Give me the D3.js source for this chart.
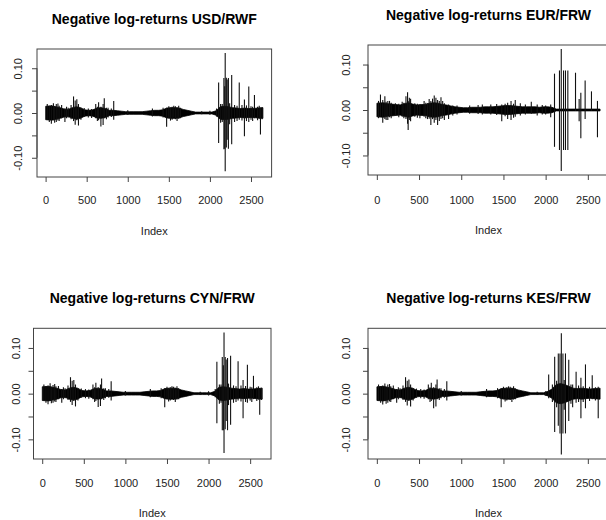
<!DOCTYPE html>
<html>
<head>
<meta charset="utf-8">
<title></title>
<script src="https://d3js.org/d3.v7.min.js"></script>
<style>
  body { margin: 0; background: #fff; }
  svg { display: block; font-family: "Liberation Sans", Arial, Helvetica, sans-serif; }
</style>
</head>
<body>
<svg id="chart" width="606" height="520"></svg>
<script>
// ticks shared by the four panels
const xTicks = [0, 500, 1000, 1500, 2000, 2500];
const yTicks = [-0.10, -0.05, 0, 0.05, 0.10];
const yLabels = [-0.10, 0.00, 0.10];
const nObs = 2645;     // series length
const binWidth = 50;   // band values are read per 50 observations

const titles = ["Negative log-returns USD/RWF", "Negative log-returns EUR/FRW",
                "Negative log-returns CYN/FRW", "Negative log-returns KES/FRW"];

// half width of the dense band of returns, one value per 50 obs
const bandUSD = [0.015,0.016,0.014,0.012, 0.009,0.008, 0.012,0.014,0.012, 0.007,0.006,0.007,
                 0.011,0.012,0.010, 0.006,0.006,0.005, 0.004,0.003,0.003,0.003,0.003,0.003,0.004,
                 0.005,0.006,0.006,0.007, 0.011,0.012,0.012,0.011,0.008, 0.006,0.004,
                 0.002,0.002,0.002,0.002,0.002,0.005,
                 0.014,0.015,0.014,0.012,0.011,0.010,0.011,0.010,0.010,0.011,0.012];
const bandEUR = [0.015,0.016,0.014,0.013, 0.012,0.011, 0.014,0.016,0.013, 0.011,0.012,0.012,
                 0.015,0.016,0.015, 0.012,0.011,0.009, 0.007,0.006,0.005,0.005,0.006,0.006,0.006,
                 0.007,0.007,0.007,0.008, 0.009,0.010,0.010,0.009,0.008, 0.007,0.007,
                 0.007,0.007,0.006,0.007,0.007,0.006,
                 0.002,0.002,0.002,0.002,0.002,0.002,0.002,0.002,0.002,0.002,0.002];
const bandCYN = [0.015,0.016,0.014,0.012, 0.009,0.008, 0.012,0.014,0.012, 0.007,0.006,0.007,
                 0.011,0.012,0.010, 0.006,0.006,0.005, 0.004,0.003,0.003,0.003,0.003,0.003,0.004,
                 0.005,0.006,0.006,0.007, 0.011,0.012,0.012,0.011,0.008, 0.006,0.004,
                 0.002,0.002,0.002,0.002,0.002,0.005,
                 0.014,0.015,0.014,0.012,0.011,0.010,0.011,0.010,0.010,0.011,0.012];
const bandKES = [0.015,0.016,0.014,0.012, 0.009,0.008, 0.012,0.014,0.012, 0.007,0.006,0.007,
                 0.011,0.012,0.010, 0.006,0.006,0.005, 0.004,0.003,0.003,0.003,0.003,0.003,0.004,
                 0.005,0.006,0.006,0.007, 0.011,0.012,0.012,0.011,0.008, 0.006,0.004,
                 0.002,0.002,0.002,0.002,0.005,0.010,
                 0.020,0.022,0.020,0.016,0.012,0.011,0.012,0.011,0.010,0.011,0.012];

// single large moves: [index, low, high]
const spikesUSD = [[20,-0.014,0.020],[45,-0.020,0.016],[70,-0.024,0.018],[95,-0.016,0.022],
  [110,-0.022,0.015],[130,-0.020,0.020],[150,-0.017,0.021],[165,-0.018,0.016],[195,-0.012,0.018],
  [235,-0.020,0.010],[255,-0.012,0.014],[275,-0.010,0.012],[310,-0.014,0.018],
  [340,-0.018,0.037],[360,-0.026,0.028],[380,-0.016,0.031],[400,-0.028,0.020],[430,-0.015,0.012],
  [470,-0.009,0.011],[520,-0.010,0.010],[560,-0.011,0.009],[610,-0.012,0.020],[630,-0.018,0.014],
  [645,-0.016,0.024],[673,-0.030,0.014],[700,-0.027,0.020],[714,-0.012,0.033],[740,-0.014,0.012],
  [760,-0.010,0.012],[800,-0.009,0.010],[829,-0.015,0.027],[1000,-0.004,0.006],[1300,-0.008,0.010],
  [1430,-0.010,0.012],[1473,-0.031,0.012],[1500,-0.012,0.015],[1520,-0.017,0.012],[1540,-0.015,0.014],
  [1560,-0.010,0.016],[1580,-0.014,0.015],[1600,-0.018,0.013],[1620,-0.013,0.016],
  [1640,-0.012,0.012],[1900,-0.003,0.004],[2000,-0.004,0.005],[2080,-0.008,0.010],
  [2106,-0.067,0.068],[2130,-0.022,0.020],[2150,-0.020,0.020],[2170,-0.081,0.078],[2180,-0.080,0.060],
  [2186,-0.130,0.134],[2200,-0.077,0.079],[2210,-0.060,0.075],[2225,-0.080,0.078],[2240,-0.025,0.022],
  [2265,-0.070,0.085],[2300,-0.020,0.018],[2330,-0.018,0.016],
  [2357,-0.015,0.068],[2390,-0.017,0.018],[2420,-0.052,0.030],[2445,-0.018,0.017],[2473,-0.020,0.059],
  [2500,-0.015,0.015],[2520,-0.018,0.014],[2542,-0.012,0.040],[2580,-0.016,0.014],[2600,-0.013,0.016],
  [2615,-0.048,0.012],[2635,-0.014,0.013]];
const spikesEUR = [[20,-0.018,0.020],[43,-0.015,0.034],[70,-0.028,0.022],[95,-0.020,0.030],
  [110,-0.022,0.018],[130,-0.022,0.020],[150,-0.016,0.020],[170,-0.018,0.016],[220,-0.012,0.015],
  [260,-0.016,0.014],[300,-0.015,0.018],[320,-0.018,0.016],[345,-0.020,0.030],[364,-0.030,0.039],
  [371,-0.044,0.020],[385,-0.022,0.027],[400,-0.025,0.025],[450,-0.015,0.015],[480,-0.017,0.014],
  [510,-0.018,0.012],[560,-0.015,0.020],[580,-0.018,0.016],[600,-0.020,0.015],[620,-0.019,0.024],
  [640,-0.033,0.020],[660,-0.020,0.025],[680,-0.028,0.032],[700,-0.022,0.027],[720,-0.033,0.022],
  [740,-0.024,0.020],[760,-0.020,0.028],[780,-0.018,0.020],[800,-0.022,0.015],[850,-0.020,0.012],
  [900,-0.012,0.010],[950,-0.010,0.010],[1100,-0.008,0.010],[1200,-0.009,0.011],
  [1250,-0.010,0.012],[1350,-0.010,0.012],[1420,-0.011,0.013],[1480,-0.025,0.012],[1520,-0.014,0.014],
  [1550,-0.020,0.016],[1590,-0.022,0.020],[1620,-0.017,0.014],
  [1640,-0.015,0.022],[1700,-0.012,0.015],[1760,-0.010,0.012],[1830,-0.008,0.018],[1900,-0.012,0.012],
  [1960,-0.010,0.011],[2000,-0.010,0.010],[2060,-0.016,0.012],
  [2105,-0.081,0.080],[2164,-0.088,0.087],[2185,-0.134,0.134],[2212,-0.088,0.087],[2235,-0.088,0.087],
  [2263,-0.088,0.087],[2354,-0.002,0.082],[2397,-0.025,0.024],[2417,-0.062,0.038],[2468,-0.020,0.065],
  [2543,-0.002,0.041],[2614,-0.060,0.020]];
const spikesCYN = [[20,-0.015,0.020],[45,-0.020,0.017],[70,-0.023,0.018],[95,-0.016,0.023],
  [110,-0.021,0.015],[130,-0.020,0.019],[150,-0.017,0.021],[165,-0.018,0.016],[195,-0.012,0.017],
  [235,-0.020,0.010],[255,-0.012,0.014],[275,-0.010,0.012],[310,-0.014,0.018],
  [340,-0.018,0.036],[360,-0.025,0.028],[380,-0.016,0.030],[400,-0.028,0.020],[430,-0.015,0.012],
  [470,-0.009,0.011],[520,-0.010,0.010],[560,-0.011,0.009],[610,-0.012,0.020],[630,-0.018,0.014],
  [645,-0.016,0.024],[673,-0.029,0.014],[700,-0.027,0.020],[714,-0.012,0.033],[740,-0.014,0.012],
  [760,-0.010,0.012],[800,-0.009,0.010],[829,-0.015,0.027],[1000,-0.004,0.006],[1300,-0.008,0.010],
  [1430,-0.010,0.012],[1473,-0.030,0.012],[1500,-0.012,0.015],[1520,-0.017,0.012],[1540,-0.015,0.014],
  [1560,-0.010,0.016],[1580,-0.014,0.015],[1600,-0.018,0.013],[1620,-0.013,0.016],
  [1640,-0.012,0.012],[1900,-0.003,0.004],[2000,-0.004,0.005],[2080,-0.008,0.010],
  [2100,-0.065,0.070],[2130,-0.022,0.020],[2150,-0.020,0.020],[2165,-0.080,0.080],[2178,-0.080,0.062],
  [2186,-0.130,0.134],[2200,-0.078,0.080],[2212,-0.060,0.075],[2228,-0.080,0.078],[2240,-0.025,0.022],
  [2265,-0.068,0.083],[2300,-0.020,0.018],[2330,-0.018,0.016],
  [2355,-0.015,0.071],[2390,-0.017,0.018],[2415,-0.054,0.030],[2445,-0.018,0.017],[2467,-0.020,0.063],
  [2500,-0.015,0.015],[2520,-0.018,0.014],[2540,-0.012,0.039],[2580,-0.016,0.014],[2600,-0.013,0.016],
  [2615,-0.046,0.012],[2635,-0.014,0.013]];
const spikesKES = [[20,-0.014,0.020],[45,-0.020,0.016],[70,-0.024,0.018],[95,-0.016,0.022],
  [110,-0.022,0.015],[130,-0.020,0.020],[150,-0.017,0.021],[165,-0.018,0.016],[195,-0.012,0.018],
  [235,-0.020,0.010],[255,-0.012,0.014],[275,-0.010,0.012],[310,-0.014,0.018],
  [340,-0.018,0.036],[360,-0.026,0.028],[380,-0.016,0.031],[400,-0.028,0.020],[430,-0.015,0.012],
  [470,-0.009,0.011],[520,-0.010,0.010],[560,-0.011,0.009],[610,-0.012,0.020],[630,-0.018,0.014],
  [645,-0.016,0.024],[673,-0.032,0.014],[700,-0.028,0.020],[714,-0.012,0.031],[740,-0.014,0.012],
  [760,-0.010,0.012],[800,-0.009,0.010],[829,-0.015,0.027],[1000,-0.004,0.006],[1300,-0.008,0.010],
  [1430,-0.010,0.012],[1473,-0.030,0.012],[1500,-0.012,0.015],[1520,-0.017,0.012],[1540,-0.015,0.014],
  [1560,-0.010,0.016],[1580,-0.014,0.015],[1600,-0.018,0.013],[1620,-0.013,0.016],
  [1640,-0.012,0.012],[1900,-0.003,0.004],[2000,-0.004,0.005],
  [2036,-0.010,0.042],[2080,-0.018,0.020],[2107,-0.084,0.081],[2130,-0.030,0.028],[2150,-0.070,0.088],
  [2170,-0.087,0.088],[2186,-0.133,0.132],[2205,-0.087,0.088],[2220,-0.035,0.030],[2235,-0.087,0.088],
  [2274,-0.060,0.074],[2300,-0.022,0.020],[2320,-0.030,0.020],[2361,-0.020,0.048],[2390,-0.018,0.018],
  [2418,-0.054,0.035],[2445,-0.018,0.016],[2472,-0.032,0.064],[2520,-0.016,0.015],[2552,-0.012,0.040],
  [2590,-0.015,0.014],[2623,-0.054,0.015]];

// page layout of the four plot boxes (plot region edges, label offsets)
const panels = [
  {title: titles[0], band: bandUSD, spikes: spikesUSD, l: 37,  r: 271.6, t: 49,    b: 177, ylab: 15.3, tx: 27.3, ix: 58},
  {title: titles[1], band: bandEUR, spikes: spikesEUR, l: 368, r: 609,   t: 45,    b: 175, ylab: 18,   tx: 29,   ix: 59.3},
  {title: titles[2], band: bandCYN, spikes: spikesCYN, l: 33.5,r: 271,   t: 328.3, b: 459, ylab: 14,   tx: 27.7, ix: 57.7},
  {title: titles[3], band: bandKES, spikes: spikesKES, l: 368, r: 609,   t: 328.3, b: 459, ylab: 18.3, tx: 27.7, ix: 58.3}
];

const svg = d3.select("#chart");
const ext = 0.04 * (nObs - 1);

panels.forEach(p => {
  const x = d3.scaleLinear().domain([1 - ext, nObs + ext]).range([p.l, p.r]);
  const y = d3.scaleLinear().domain([-0.143, 0.143]).range([p.b, p.t]);
  const g = svg.append("g");

  // dense band
  const nb = p.band.length;
  const bx = (d, i) => x(i === 0 ? 1 : i === nb - 1 ? nObs : i * binWidth + binWidth / 2);
  g.append("path")
    .datum(p.band)
    .attr("d", d3.area().x(bx).y0(d => y(-d)).y1(d => y(d)))
    .attr("fill", "#000")
    .attr("stroke", "#000")
    .attr("stroke-width", 0.8);

  // spikes
  g.selectAll("line.spike").data(p.spikes).join("line")
    .attr("class", "spike")
    .attr("x1", d => x(d[0])).attr("x2", d => x(d[0]))
    .attr("y1", d => y(d[1])).attr("y2", d => y(d[2]))
    .attr("stroke", "#111")
    .attr("stroke-width", 1.1);

  // box
  g.append("rect")
    .attr("x", p.l).attr("y", p.t)
    .attr("width", p.r - p.l).attr("height", p.b - p.t)
    .attr("fill", "none").attr("stroke", "#444").attr("stroke-width", 1);

  // x axis
  const xa = g.append("g").attr("transform", `translate(0,${p.b})`)
    .call(d3.axisBottom(x).tickValues(xTicks).tickSize(5).tickFormat(d3.format("d")));
  xa.select(".domain").remove();
  xa.selectAll("line").attr("stroke", "#444");
  xa.selectAll("text")
    .attr("y", p.tx).attr("dy", null)
    .attr("font-size", 11).attr("fill", "#222");

  // y axis
  const ya = g.append("g").attr("transform", `translate(${p.l},0)`)
    .call(d3.axisLeft(y).tickValues(yTicks).tickSize(5)
      .tickFormat(d => yLabels.some(v => Math.abs(v - d) < 1e-9) ? d.toFixed(2) : ""));
  ya.select(".domain").attr("d", `M0,${y(-0.10)}V${y(0.10)}`).attr("stroke", "#444");
  ya.selectAll("line").attr("stroke", "#444");
  ya.selectAll("text")
    .attr("x", null).attr("dy", null)
    .attr("text-anchor", "middle")
    .attr("transform", `translate(${-p.ylab},0) rotate(-90)`)
    .attr("font-size", 11).attr("fill", "#222");

  // title and x label
  g.append("text")
    .attr("x", (p.l + p.r) / 2).attr("y", p.t - 25)
    .attr("text-anchor", "middle")
    .attr("font-size", 14).attr("font-weight", "bold").attr("fill", "#000")
    .text(p.title);
  g.append("text")
    .attr("x", (p.l + p.r) / 2).attr("y", p.b + p.ix)
    .attr("text-anchor", "middle")
    .attr("font-size", 11).attr("fill", "#222")
    .text("Index");
});
</script>
</body>
</html>
